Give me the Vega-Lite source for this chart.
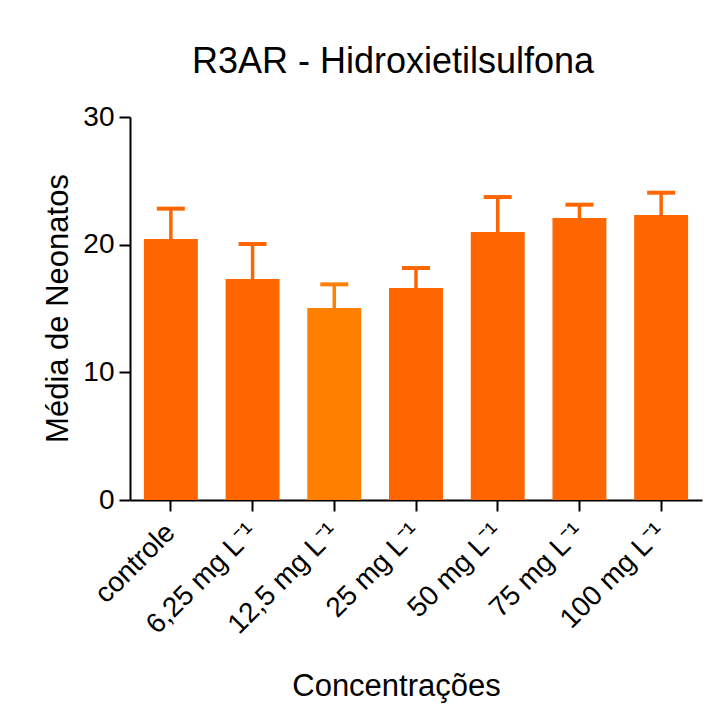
{
  "$schema": "https://vega.github.io/schema/vega-lite/v6.json",
  "width": 572,
  "height": 383,
  "autosize": {"type": "none"},
  "padding": {"left": 130, "top": 117, "right": 8, "bottom": 223},
  "background": "white",
  "config": {
    "font": "Liberation Sans",
    "view": {"stroke": null},
    "axis": {"grid": false, "domainColor": "black", "tickColor": "black", "labelColor": "black", "titleColor": "black", "domainWidth": 2, "tickWidth": 2, "tickSize": 11, "labelFont": "Liberation Sans", "titleFont": "Liberation Sans", "titleFontWeight": "normal"}
  },
  "title": {"text": "R3AR - Hidroxietilsulfona", "fontSize": 36, "fontWeight": "normal", "color": "black", "anchor": "middle", "dx": -23, "dy": 49, "offset": 43, "baseline": "alphabetic"},
  "data": {"values": [
    {"grupo": "controle", "media": 20.44, "superior": 22.82},
    {"grupo": "6,25 mg L⁻¹", "media": 17.31, "superior": 20.05},
    {"grupo": "12,5  mg L⁻¹", "media": 15.04, "superior": 16.89},
    {"grupo": "25  mg L⁻¹", "media": 16.6, "superior": 18.17},
    {"grupo": "50 mg L⁻¹", "media": 20.99, "superior": 23.73},
    {"grupo": "75  mg L⁻¹", "media": 22.09, "superior": 23.13},
    {"grupo": "100 mg L⁻¹", "media": 22.32, "superior": 24.07}
  ]},
  "encoding": {
    "x": {"field": "grupo", "type": "nominal", "sort": null,
      "scale": {"paddingInner": 0.34, "paddingOuter": 0.17},
      "axis": {"title": "Concentrações", "titleFontSize": 31, "labelFontSize": 28, "labelAngle": -45, "labelAlign": "right", "labelBaseline": "middle", "labelPadding": 17, "titleX": 266, "titleY": 195, "titleBaseline": "alphabetic", "titleAnchor": "middle"}}
  },
  "layer": [
    {
      "mark": {"type": "bar", "opacity": 1},
      "encoding": {
        "y": {"field": "media", "type": "quantitative", "scale": {"domain": [0, 30], "nice": false},
          "axis": {"title": "Média de Neonatos", "titleFontSize": 31, "labelFontSize": 28, "labelPadding": 5, "values": [0, 10, 20, 30], "titleX": -63, "titleY": 191, "titleBaseline": "alphabetic", "titleAngle": -90}},
        "color": {"condition": {"test": "datum.grupo === '12,5  mg L⁻¹'", "value": "#FF8000"}, "value": "#FF6600"}
      }
    },
    {
      "mark": {"type": "rule", "strokeWidth": 3.5, "opacity": 1},
      "encoding": {
        "y": {"field": "media", "type": "quantitative"},
        "y2": {"field": "superior"},
        "color": {"condition": {"test": "datum.grupo === '12,5  mg L⁻¹'", "value": "#FF8000"}, "value": "#FF6600"}
      }
    },
    {
      "mark": {"type": "tick", "size": 28, "thickness": 4, "opacity": 1},
      "encoding": {
        "y": {"field": "superior", "type": "quantitative"},
        "color": {"condition": {"test": "datum.grupo === '12,5  mg L⁻¹'", "value": "#FF8000"}, "value": "#FF6600"}
      }
    }
  ]
}
